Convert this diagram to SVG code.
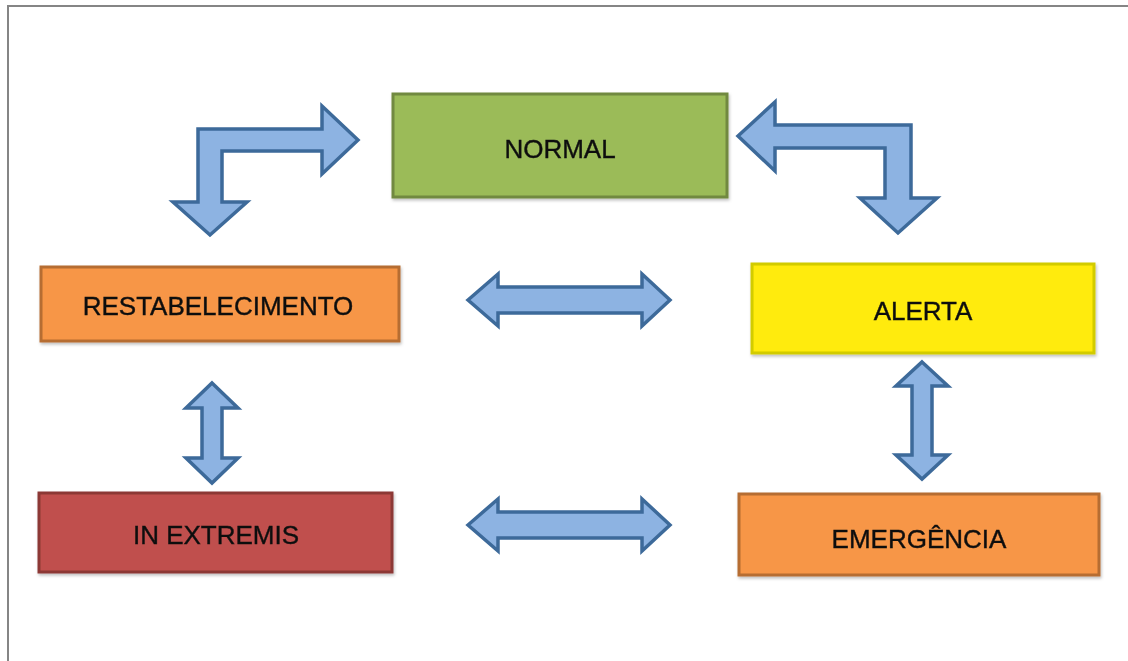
<svg xmlns="http://www.w3.org/2000/svg" width="1128" height="661" viewBox="0 0 1128 661">
  <style>
    .box { stroke-width: 3; }
    .lbl { font-family: "Liberation Sans", Arial, sans-serif; font-size: 26px; fill: #111; stroke: #111; stroke-width: 0.4; text-anchor: middle; }
    .arrow { fill: #8DB3E2; stroke: #3D6A9A; stroke-width: 3.5; stroke-linejoin: miter; }
  </style>
  <defs>
    <filter id="shadow" x="-5%" y="-10%" width="110%" height="125%">
      <feDropShadow dx="1" dy="2" stdDeviation="1.5" flood-color="#000" flood-opacity="0.25"/>
    </filter>
  </defs>

  <rect width="1128" height="661" fill="#fff"/>
  <!-- page frame -->
  <line x1="7" y1="6" x2="1128" y2="6" stroke="#858585" stroke-width="2"/>
  <line x1="8" y1="5" x2="8" y2="661" stroke="#858585" stroke-width="2"/>

  <g id="connectors">
    <!-- NORMAL <-> RESTABELECIMENTO -->
    <polygon class="arrow" points="358,140 322,106 322,129 198,129 198,202 173,202 210,235 247,202 222,202 222,151 322,151 322,174"/>
    <!-- NORMAL <-> ALERTA -->
    <polygon class="arrow" points="738,136 775,102 775,125 911,125 911,198 937,198 898,233 860,198 885,198 885,148 775,148 775,171"/>
    <!-- RESTABELECIMENTO <-> ALERTA -->
    <polygon class="arrow" points="468,300 498,274 498,287 642,287 642,274 670,300 642,326 642,313 498,313 498,326"/>
    <!-- IN EXTREMIS <-> EMERGÊNCIA -->
    <polygon class="arrow" points="468,525 498,499 498,512 642,512 642,499 670,525 642,551 642,538 498,538 498,551"/>
    <!-- RESTABELECIMENTO <-> IN EXTREMIS -->
    <polygon class="arrow" points="212,383 238,408 222,408 222,458 238,458 212,483 186,458 202,458 202,408 186,408"/>
    <!-- ALERTA <-> EMERGÊNCIA -->
    <polygon class="arrow" points="922,362 948,386 932,386 932,455 948,455 922,479 896,455 912,455 912,386 896,386"/>
  </g>

  <g id="normal" filter="url(#shadow)">
    <rect class="box" x="393" y="94" width="334" height="103" fill="#9BBB59" stroke="#71893F"/>
    <text class="lbl" x="560" y="158">NORMAL</text>
  </g>

  <g id="restabelecimento" filter="url(#shadow)">
    <rect class="box" x="41" y="267" width="358" height="74" fill="#F79646" stroke="#B66D31"/>
    <text class="lbl" x="218" y="315">RESTABELECIMENTO</text>
  </g>

  <g id="alerta" filter="url(#shadow)">
    <rect class="box" x="752" y="264" width="342" height="89" fill="#FFEB0A" stroke="#D2CB00"/>
    <text class="lbl" x="923" y="320">ALERTA</text>
  </g>

  <g id="in-extremis" filter="url(#shadow)">
    <rect class="box" x="39" y="493" width="353" height="79" fill="#C0504D" stroke="#8C3836"/>
    <text class="lbl" x="216" y="544">IN EXTREMIS</text>
  </g>

  <g id="emergencia" filter="url(#shadow)">
    <rect class="box" x="739" y="494" width="360" height="81" fill="#F79646" stroke="#B66D31"/>
    <text class="lbl" x="919" y="548">EMERGÊNCIA</text>
  </g>
</svg>
